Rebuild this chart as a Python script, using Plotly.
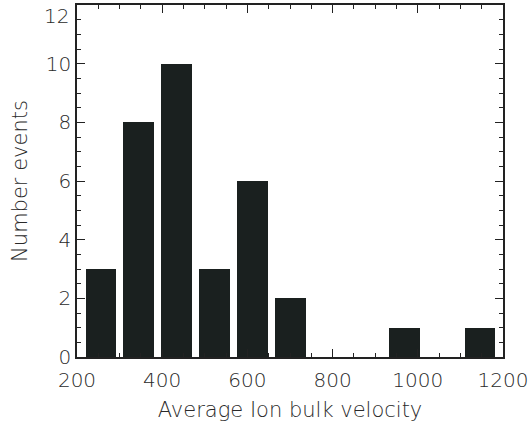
import plotly.graph_objects as go

# Data
bin_centers = [256, 345, 434, 523, 612, 701, 790, 879, 968, 1057, 1146]
counts = [3, 8, 10, 3, 6, 2, 0, 0, 1, 0, 1]
y_tick_vals = [0, 2, 4, 6, 8, 10, 12]
y_tick_text = ["0", "2", "4", "6", "8", "10", ""]
x_tick_vals = [200, 400, 600, 800, 1000, 1200]

bar_color = "#1a201f"
text_color = "#2a2a2a"
font_family = "DejaVu Sans"

fig = go.Figure()
fig.add_trace(go.Bar(
    x=bin_centers, y=counts, width=72,
    marker=dict(color=bar_color, line=dict(width=0)),
))

fig.update_layout(
    width=531, height=424,
    margin=dict(l=77, r=28, t=5, b=67),
    paper_bgcolor="white", plot_bgcolor="white",
    showlegend=False,
    font=dict(family=font_family, size=20, color=text_color, weight=300),
    bargap=0,
)
fig.update_xaxes(
    range=[200, 1200], tickvals=x_tick_vals, automargin=False,
    ticks="inside", ticklen=8, tickwidth=1, tickcolor="#222",
    showline=True, linecolor="#222", linewidth=1.5, mirror="ticks",
    showgrid=False, zeroline=False,
    minor=dict(dtick=50, tick0=0, ticks="inside", ticklen=4, tickcolor="#222", showgrid=False),
    title=dict(text="Average Ion bulk velocity", font=dict(size=21), standoff=12),
    tickfont=dict(size=20), ticklabelstandoff=4,
)
fig.update_yaxes(
    range=[0, 12], tickvals=y_tick_vals, ticktext=y_tick_text, automargin=False,
    ticks="inside", ticklen=8, tickwidth=1, tickcolor="#222",
    showline=True, linecolor="#222", linewidth=1.5, mirror="ticks",
    showgrid=False, zeroline=False,
    minor=dict(dtick=0.5, tick0=0, ticks="inside", ticklen=4, tickcolor="#222", showgrid=False),
    title=dict(text="Number events", font=dict(size=21), standoff=12),
    tickfont=dict(size=20),
)
fig.add_annotation(
    text="12", xref="paper", yref="paper", x=0, y=1,
    xanchor="right", yanchor="top", xshift=-6, yshift=3,
    showarrow=False, font=dict(size=20, color=text_color, family=font_family, weight=300),
)

fig.write_html(
    "out.html",
    config={"displayModeBar": False},
    post_script="document.body.style.margin='0';document.body.style.overflow='hidden';",
)
